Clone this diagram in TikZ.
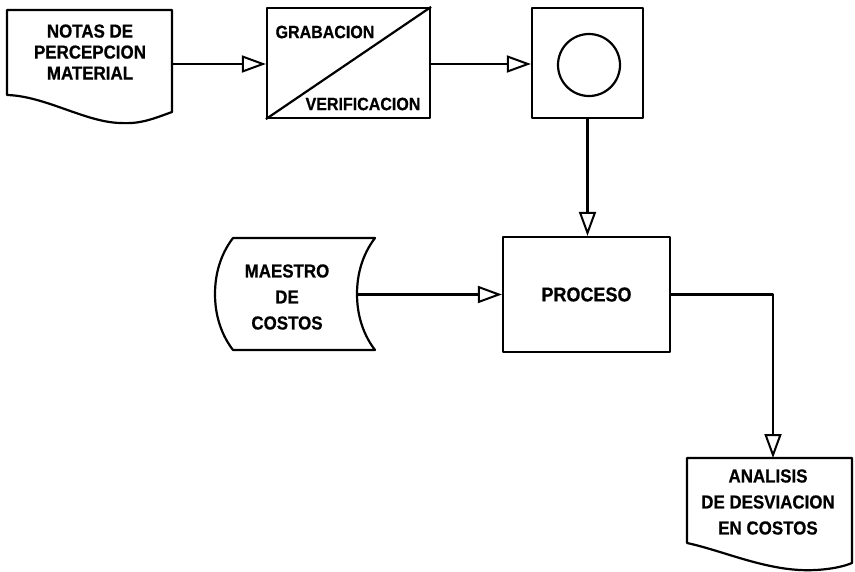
\documentclass[tikz,border=0pt]{standalone}
\usepackage{fontspec}
\setmainfont{Liberation Sans}
\newfontfamily\lblfont{Liberation Sans Bold}[FakeStretch=0.9, FakeBold=0.6]
\usetikzlibrary{arrows.meta,calc}
\tikzset{
  ln/.style={line width=2.2pt, line join=round},
  conn/.style={ln, -{Triangle[open, length=24pt, width=17pt, line width=2pt]}},
  lblA/.style={font=\lblfont\fontsize{17.8}{21}\selectfont, align=center, inner sep=0pt},
  lblN/.style={font=\lblfont\fontsize{18.8}{21}\selectfont, align=center, inner sep=0pt},
  lblB/.style={font=\lblfont\fontsize{18.8}{26}\selectfont, align=center, inner sep=0pt},
  boxnode/.style={ln, draw, rectangle, inner sep=0pt},
}
\begin{document}
\begin{tikzpicture}[x=1pt,y=-1pt]
\useasboundingbox (0,0) rectangle (855,571);
\fill[white] (0,0) rectangle (855,571);

% NOTAS DE PERCEPCION MATERIAL (document)
\node[lblN] (notas) at (90,52) {NOTAS DE\\PERCEPCION\\MATERIAL};
\draw[ln] (7,95) -- (7,10) -- (172,10) -- (172,112)
  .. controls (150,120) and (140,124) .. (120,123)
  .. controls (85,122) and (45,96) .. cycle;
\coordinate (nout) at (172,64);

% GRABACION / VERIFICACION
\node[boxnode, minimum width=163pt, minimum height=110pt] (grab) at (348.5,63) {};
\draw[ln] (grab.south west) -- (grab.north east);
\node[lblA] (grabt) at (325,32) {GRABACION};
\node[lblA] (verit) at (363,104) {VERIFICACION};

% box with circle
\node[boxnode, minimum width=111pt, minimum height=110pt] (disk) at (587.5,63) {};
\node[ln, draw, circle, minimum size=62pt, inner sep=0pt] (circ) at (589,65) {};

% PROCESO
\node[boxnode, minimum width=167pt, minimum height=115pt,
      font=\lblfont\fontsize{20}{21}\selectfont] (proc) at (586.5,294.5) {PROCESO};

% MAESTRO DE COSTOS (stored data)
\node[lblB] (maestro) at (287,297) {MAESTRO\\DE\\COSTOS};
\draw[ln] (233,238) -- (375,238)
  .. controls (362,255) and (357,275) .. (357,294)
  .. controls (357,313) and (362,333) .. (375,350)
  -- (233,350)
  .. controls (220,333) and (215,313) .. (215,294)
  .. controls (215,275) and (220,255) .. cycle;
\coordinate (mout) at (357,294.5);

% ANALISIS DE DESVIACION EN COSTOS (document)
\node[lblB] (anal) at (768,502) {ANALISIS\\DE DESVIACION\\EN COSTOS};
\draw[ln] (687,543) -- (687,458) -- (852,458) -- (852,563)
  .. controls (840,568) and (820,571) .. (800,570)
  .. controls (760,568) and (720,550) .. cycle;
\coordinate (atop) at (773,458);

% connectors
\draw[conn] (nout) -- (grab.west |- nout);
\draw[conn] (grab.east |- nout) -- (disk.west |- nout);
\draw[conn] (disk.south) -- (disk.south |- proc.north);
\draw[conn] (mout) -- (proc.west);
\draw[conn] (proc.east) -| (atop);
\end{tikzpicture}
\end{document}
